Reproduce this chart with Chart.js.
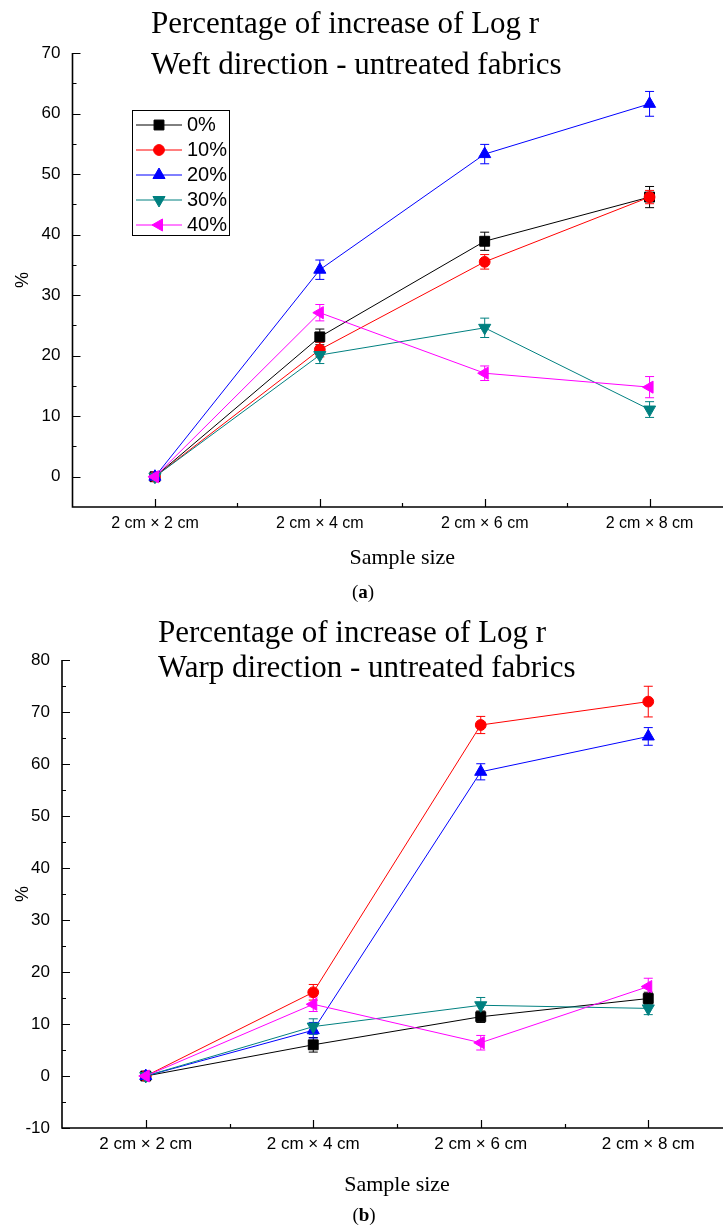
<!DOCTYPE html>
<html>
<head>
<meta charset="utf-8">
<script src="https://cdn.jsdelivr.net/npm/chart.js@4.4.1/dist/chart.umd.min.js"></script>
<style>
  html, body { margin: 0; padding: 0; background: #fff; overflow: hidden; }
  #page { position: relative; width: 723px; height: 1229px; overflow: hidden; background: #fff; }
  .fig { position: absolute; left: 0; }
  #figA { top: 0; }
  #figB { top: 600px; }
  .panel { position: absolute; font-family: 'Liberation Serif', serif; font-size: 19px; line-height: 22px; color: #000; transform: translateX(-50%); white-space: nowrap; }
</style>
</head>
<body>
<div id="page">
  <div class="fig" id="figA"><canvas id="chartA" width="740" height="600"></canvas></div>
  <div class="fig" id="figB"><canvas id="chartB" width="740" height="629"></canvas></div>
  <div class="panel" style="left:363px; top:581px;">(<b>a</b>)</div>
  <div class="panel" style="left:364px; top:1204px;">(<b>b</b>)</div>
</div>
<script>
// ---- data ----
const sampleSizes = ['2 cm \u00d7 2 cm', '2 cm \u00d7 4 cm', '2 cm \u00d7 6 cm', '2 cm \u00d7 8 cm'];
const seriesNames = ['0%', '10%', '20%', '30%', '40%'];

const titleWeft = ['Percentage of increase of Log r', 'Weft direction - untreated fabrics'];
const titleWarp = ['Percentage of increase of Log r', 'Warp direction - untreated fabrics'];
const xAxisTitle = 'Sample size';
const yAxisTitle = '%';

// (a) weft direction: mean % increase and error (±)
const weft0  = [0, 23.1, 38.9, 46.2];
const weft10 = [0, 21.0, 35.5, 46.2];
const weft20 = [0, 34.2, 53.3, 61.6];
const weft30 = [0, 20.1, 24.6, 11.1];
const weft40 = [0, 27.1, 17.1, 14.8];
const weftErr0  = [0, 1.3, 1.5, 1.75];
const weftErr10 = [0, 1.2, 1.2, 1.1];
const weftErr20 = [0, 1.6, 1.6, 2.05];
const weftErr30 = [0, 1.4, 1.6, 1.3];
const weftErr40 = [0, 1.35, 1.2, 1.75];
const weftTicks = [0, 10, 20, 30, 40, 50, 60, 70];

// (b) warp direction
const warp0  = [0, 6.0, 11.4, 14.9];
const warp10 = [0, 16.1, 67.5, 72.0];
const warp20 = [0, 8.8, 58.5, 65.3];
const warp30 = [0, 9.5, 13.6, 13.0];
const warp40 = [0, 13.8, 6.4, 17.2];
const warpErr0  = [0, 1.4, 1.1, 1.2];
const warpErr10 = [0, 1.5, 1.65, 2.95];
const warpErr20 = [0, 1.5, 1.55, 1.7];
const warpErr30 = [0, 1.5, 1.5, 1.2];
const warpErr40 = [0, 1.4, 1.4, 1.6];
const warpTicks = [-10, 0, 10, 20, 30, 40, 50, 60, 70, 80];

// ---- styles ----
const seriesColors = ['#000000', '#ff0000', '#0000ff', '#008080', '#ff00ff'];
const markerStyles = [
  { pointStyle: 'rect', rotation: 0, radius: 7 },
  { pointStyle: 'circle', rotation: 0, radius: 5.4 },
  { pointStyle: 'triangle', rotation: 0, radius: 7 },
  { pointStyle: 'triangle', rotation: 180, radius: 7 },
  { pointStyle: 'triangle', rotation: 270, radius: 7 }
];

function makeDatasets(values, errors) {
  return values.map((vals, i) => ({
    label: seriesNames[i],
    data: vals,
    errors: errors[i],
    borderColor: seriesColors[i],
    backgroundColor: seriesColors[i],
    borderWidth: 1,
    pointStyle: markerStyles[i].pointStyle,
    pointRotation: markerStyles[i].rotation,
    pointRadius: markerStyles[i].radius,
    pointHoverRadius: markerStyles[i].radius,
    pointBorderWidth: 1,
    pointBackgroundColor: seriesColors[i],
    pointBorderColor: seriesColors[i],
    tension: 0,
    clip: false,
    order: values.length - i   // later series drawn on top
  }));
}

function drawMarker(ctx, style, x, y) {
  if (Chart.helpers && Chart.helpers.drawPoint) {
    Chart.helpers.drawPoint(ctx, { pointStyle: style.pointStyle, rotation: style.rotation, radius: style.radius, borderWidth: 1 }, x, y);
  }
}

// axis lines with inward major / minor tick marks
const axesFrame = {
  id: 'axesFrame',
  beforeDatasetsDraw(chart, args, o) {
    const { ctx, chartArea: a, scales: { x, y } } = chart;
    ctx.save();
    ctx.strokeStyle = '#000';
    ctx.lineWidth = 1.2;
    ctx.beginPath();
    const yv = y.ticks.map(t => t.value);
    yv.forEach(v => { const p = Math.round(y.getPixelForValue(v)) + 0.5; ctx.moveTo(a.left, p); ctx.lineTo(a.left + o.major, p); });
    for (let i = 0; i < yv.length - 1; i++) {
      const p = Math.round(y.getPixelForValue((yv[i] + yv[i + 1]) / 2)) + 0.5;
      ctx.moveTo(a.left, p); ctx.lineTo(a.left + o.minor, p);
    }
    const n = x.getLabels().length;
    for (let i = 0; i < n; i++) {
      const p = Math.round(x.getPixelForValue(i)) + 0.5;
      ctx.moveTo(p, a.bottom); ctx.lineTo(p, a.bottom - o.major);
      if (i < n - 1) {
        const m = Math.round((x.getPixelForValue(i) + x.getPixelForValue(i + 1)) / 2) + 0.5;
        ctx.moveTo(m, a.bottom); ctx.lineTo(m, a.bottom - o.minor);
      }
    }
    ctx.stroke();
    ctx.lineWidth = 1.6;
    ctx.beginPath();
    ctx.moveTo(a.left, a.top);
    ctx.lineTo(a.left, a.bottom);
    ctx.lineTo(a.right + 20, a.bottom);
    ctx.stroke();
    ctx.restore();
  }
};

// vertical error bars with caps
const errorBars = {
  id: 'errorBars',
  beforeDatasetsDraw(chart, args, o) {
    const { ctx, scales: { y } } = chart;
    ctx.save();
    ctx.lineWidth = 1;
    chart.data.datasets.forEach((ds, i) => {
      const meta = chart.getDatasetMeta(i);
      ctx.strokeStyle = ds.borderColor;
      ds.data.forEach((v, j) => {
        const e = ds.errors[j];
        if (!e) return;
        const px = meta.data[j].x;
        const top = y.getPixelForValue(v + e);
        const bot = y.getPixelForValue(v - e);
        ctx.beginPath();
        ctx.moveTo(px, top); ctx.lineTo(px, bot);
        ctx.moveTo(px - o.cap, top); ctx.lineTo(px + o.cap, top);
        ctx.moveTo(px - o.cap, bot); ctx.lineTo(px + o.cap, bot);
        ctx.stroke();
      });
    });
    ctx.restore();
  }
};

// boxed legend inside the plot
const boxLegend = {
  id: 'boxLegend',
  afterDraw(chart, args, o) {
    const ctx = chart.ctx;
    ctx.save();
    ctx.strokeStyle = o.boxColor;
    ctx.lineWidth = 1;
    ctx.strokeRect(o.box[0] + 0.5, o.box[1] + 0.5, o.box[2], o.box[3]);
    ctx.font = o.font;
    ctx.textBaseline = 'middle';
    ctx.textAlign = 'left';
    chart.data.datasets.forEach((ds, i) => {
      const cy = o.firstY + i * o.rowGap;
      ctx.strokeStyle = ds.borderColor;
      ctx.fillStyle = ds.borderColor;
      ctx.lineWidth = 1;
      ctx.beginPath();
      ctx.moveTo(o.lineX[0], cy); ctx.lineTo(o.lineX[1], cy);
      ctx.stroke();
      drawMarker(ctx, markerStyles[i], (o.lineX[0] + o.lineX[1]) / 2, cy);
      ctx.fillStyle = '#000';
      ctx.fillText(ds.label, o.textX, cy);
    });
    ctx.restore();
  }
};

// two-line heading above the plot
const figureTitle = {
  id: 'figureTitle',
  afterDraw(chart, args, o) {
    const ctx = chart.ctx;
    ctx.save();
    ctx.font = o.font;
    ctx.fillStyle = '#000';
    ctx.textAlign = 'left';
    ctx.textBaseline = 'alphabetic';
    o.lines.forEach((t, i) => ctx.fillText(t, o.x, o.baselines[i]));
    ctx.restore();
  }
};

function makeChart(canvasId, cfg) {
  return new Chart(document.getElementById(canvasId), {
    type: 'line',
    data: { labels: sampleSizes, datasets: makeDatasets(cfg.values, cfg.errors) },
    plugins: [axesFrame, errorBars, boxLegend, figureTitle],
    options: {
      responsive: false,
      animation: false,
      events: [],
      layout: { padding: cfg.padding },
      plugins: {
        legend: { display: false },
        tooltip: { enabled: false },
        axesFrame: { major: 8, minor: 4 },
        errorBars: { cap: 4.5 },
        boxLegend: cfg.legend,
        figureTitle: cfg.title
      },
      scales: {
        x: {
          type: 'category',
          offset: true,
          grid: { display: false, drawTicks: false },
          border: { display: false },
          ticks: { color: '#000', font: { family: 'Liberation Sans', size: cfg.xFont }, padding: cfg.xPad, maxRotation: 0, autoSkip: false },
          title: { display: true, text: xAxisTitle, color: '#000', font: { family: 'Liberation Serif', size: 22 }, padding: { top: 0, bottom: cfg.xTitlePad } },
          afterFit: s => { s.height = cfg.xHeight; }
        },
        y: {
          min: cfg.yMin,
          max: cfg.yMax,
          afterBuildTicks: s => { s.ticks = cfg.ticks.map(v => ({ value: v })); },
          grid: { display: false, drawTicks: false },
          border: { display: false },
          ticks: { color: '#000', font: { family: 'Liberation Sans', size: 17 }, padding: 12 },
          title: { display: true, text: yAxisTitle, color: '#000', font: { family: 'Liberation Sans', size: 18 }, padding: { top: 12, bottom: 0 } },
          afterFit: s => { s.width = cfg.yWidth; }
        }
      }
    }
  });
}

makeChart('chartA', {
  values: [weft0, weft10, weft20, weft30, weft40],
  errors: [weftErr0, weftErr10, weftErr20, weftErr30, weftErr40],
  ticks: weftTicks, yMin: -5, yMax: 70,
  padding: { left: 0, top: 53, right: 7.5, bottom: 0 },
  yWidth: 72.5, xHeight: 93, xFont: 16, xPad: 7, xTitlePad: 29,
  legend: { box: [132, 110, 97, 125], boxColor: '#000', font: '20px "Liberation Sans"', firstY: 125, rowGap: 25, lineX: [136, 182], textX: 187 },
  title: { lines: titleWeft, font: '31px "Liberation Serif"', x: 151, baselines: [33, 74] }
});

makeChart('chartB', {
  values: [warp0, warp10, warp20, warp30, warp40],
  errors: [warpErr0, warpErr10, warpErr20, warpErr30, warpErr40],
  ticks: warpTicks, yMin: -10, yMax: 80,
  padding: { left: 0, top: 60, right: 6, bottom: 0 },
  yWidth: 62, xHeight: 101, xFont: 17, xPad: 6, xTitlePad: 31,
  legend: { box: [104, 718, 89, 129], boxColor: '#444', font: '18px "Liberation Serif"', firstY: 734, rowGap: 25.5, lineX: [108, 154], textX: 159 },
  title: { lines: titleWarp, font: '31px "Liberation Serif"', x: 158, baselines: [42, 77] }
});
</script>
</body>
</html>
